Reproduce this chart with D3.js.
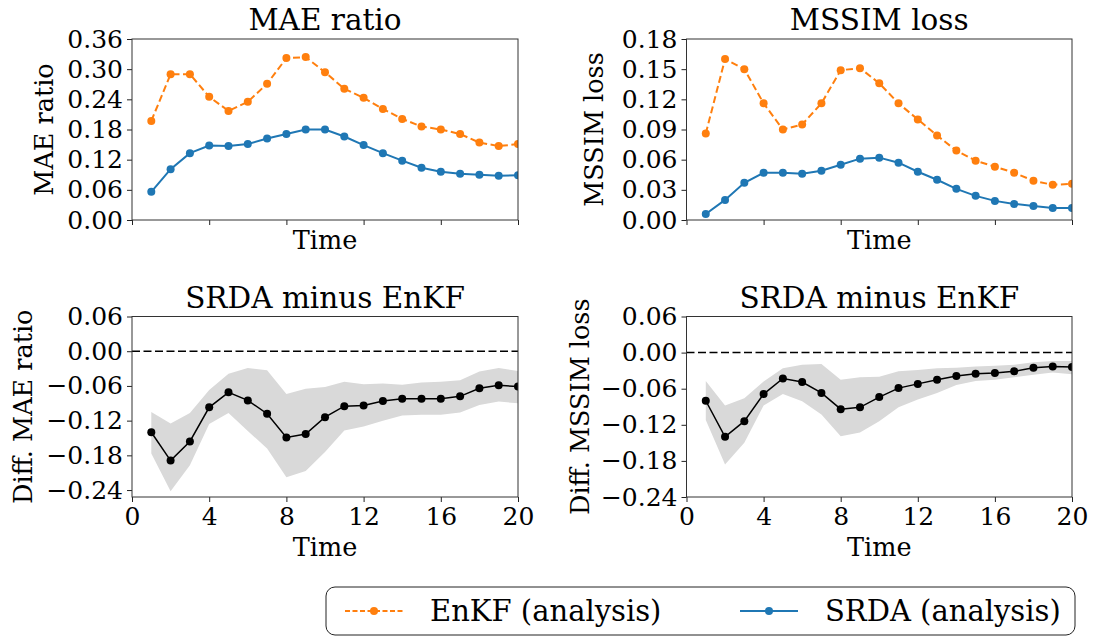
<!DOCTYPE html>
<html lang="en">
<head>
<meta charset="utf-8">
<title>SRDA vs EnKF</title>
<script src="https://cdn.jsdelivr.net/npm/d3@7"></script>
<style>
  body { margin: 0; background: #fff; }
  svg text { font-family: "DejaVu Serif", serif; fill: #000; }
</style>
</head>
<body>
<script>
// --- data ---
var time = d3.range(1, 21);

var maeEnkf = [0.197, 0.290, 0.290, 0.245, 0.217, 0.235, 0.271, 0.322, 0.324, 0.294,
               0.261, 0.243, 0.221, 0.201, 0.186, 0.180, 0.171, 0.154, 0.147, 0.151];
var maeSrda = [0.056, 0.101, 0.133, 0.148, 0.147, 0.151, 0.162, 0.171, 0.180, 0.180,
               0.166, 0.149, 0.133, 0.118, 0.104, 0.096, 0.092, 0.090, 0.088, 0.089];

var ssimEnkf = [0.086, 0.160, 0.150, 0.116, 0.090, 0.095, 0.116, 0.149, 0.151, 0.136,
                0.116, 0.100, 0.084, 0.069, 0.059, 0.053, 0.047, 0.039, 0.035, 0.036];
var ssimSrda = [0.006, 0.020, 0.037, 0.047, 0.047, 0.046, 0.049, 0.055, 0.061, 0.062,
                0.057, 0.048, 0.040, 0.031, 0.024, 0.019, 0.016, 0.014, 0.012, 0.012];

var maeDiff  = [-0.140, -0.189, -0.156, -0.097, -0.071, -0.085, -0.108, -0.149, -0.143, -0.114,
                -0.095, -0.094, -0.086, -0.082, -0.082, -0.082, -0.078, -0.064, -0.059, -0.061];
var maeDiffHi = [-0.105, -0.125, -0.107, -0.067, -0.039, -0.029, -0.033, -0.074, -0.065, -0.062,
                 -0.053, -0.057, -0.056, -0.058, -0.054, -0.053, -0.050, -0.035, -0.029, -0.034];
var maeDiffLo = [-0.177, -0.242, -0.197, -0.126, -0.107, -0.138, -0.168, -0.218, -0.207, -0.174,
                 -0.137, -0.130, -0.120, -0.111, -0.110, -0.110, -0.106, -0.093, -0.087, -0.090];

var ssimDiff  = [-0.080, -0.140, -0.114, -0.069, -0.043, -0.049, -0.067, -0.094, -0.091, -0.074,
                 -0.059, -0.052, -0.045, -0.039, -0.035, -0.034, -0.031, -0.025, -0.023, -0.024];
var ssimDiffHi = [-0.047, -0.088, -0.076, -0.048, -0.026, -0.020, -0.019, -0.045, -0.041, -0.040,
                  -0.031, -0.029, -0.026, -0.025, -0.023, -0.022, -0.020, -0.016, -0.014, -0.014];
var ssimDiffLo = [-0.112, -0.186, -0.150, -0.088, -0.069, -0.081, -0.103, -0.139, -0.133, -0.114,
                  -0.091, -0.078, -0.067, -0.054, -0.047, -0.045, -0.041, -0.037, -0.033, -0.036];

var xTicks = [0, 4, 8, 12, 16, 20];
var maeTicks = [0, 0.06, 0.12, 0.18, 0.24, 0.30, 0.36];
var ssimTicks = [0, 0.03, 0.06, 0.09, 0.12, 0.15, 0.18];
var diffTicks = [0.06, 0, -0.06, -0.12, -0.18, -0.24];

var ORANGE = "#ff7f0e", BLUE = "#1f77b4";

var W = 1095, H = 636;
var svg = d3.select("body").append("svg")
  .attr("width", W).attr("height", H);

var fmt = d3.format(".2f");

function panel(p) {
  var x = d3.scaleLinear().domain([0, 20]).range([p.left, p.right]);
  var y = d3.scaleLinear().domain(p.ydom).range([p.bottom, p.top]);
  var g = svg.append("g");

  var clipId = "clip" + p.id;
  svg.append("clipPath").attr("id", clipId).append("rect")
    .attr("x", p.left).attr("y", p.top)
    .attr("width", p.right - p.left).attr("height", p.bottom - p.top);
  var plot = g.append("g").attr("clip-path", "url(#" + clipId + ")");

  if (p.band) {
    var area = d3.area()
      .x(function(d, i) { return x(time[i]); })
      .y0(function(d, i) { return y(p.band[1][i]); })
      .y1(function(d, i) { return y(p.band[0][i]); });
    plot.append("path").datum(time).attr("d", area).attr("fill", "#d9d9d9");
  }
  if (p.zero) {
    plot.append("line")
      .attr("x1", p.left).attr("x2", p.right)
      .attr("y1", y(0)).attr("y2", y(0))
      .attr("stroke", "#000").attr("stroke-width", 1.5)
      .attr("stroke-dasharray", "8,3.5");
  }

  p.series.forEach(function(s) {
    var line = d3.line()
      .x(function(d, i) { return x(time[i]); })
      .y(function(d) { return y(d); });
    plot.append("path").datum(s.values)
      .attr("d", line).attr("fill", "none")
      .attr("stroke", s.color).attr("stroke-width", s.width)
      .attr("stroke-dasharray", s.dash || null);
    plot.selectAll(null).data(s.values).enter().append("circle")
      .attr("cx", function(d, i) { return x(time[i]); })
      .attr("cy", function(d) { return y(d); })
      .attr("r", 4).attr("fill", s.color);
  });

  // axes
  var xa = d3.axisBottom(x).tickValues(xTicks).tickSize(5).tickPadding(5)
    .tickFormat(p.xlabels ? d3.format("d") : "");
  var ya = d3.axisLeft(y).tickValues(p.yticks).tickSize(5).tickPadding(4).tickFormat(fmt);

  var gx = g.append("g").attr("transform", "translate(0," + p.bottom + ")").call(xa);
  var gy = g.append("g").attr("transform", "translate(" + p.left + ",0)").call(ya);
  [gx, gy].forEach(function(a) {
    a.select(".domain").remove();
    a.selectAll("line").attr("stroke", "#222").attr("stroke-width", 1);
    a.selectAll("text").style("font-family", "DejaVu Serif").style("font-size", "25px").attr("fill", "#000");
  });

  g.append("rect")
    .attr("x", p.left).attr("y", p.top)
    .attr("width", p.right - p.left).attr("height", p.bottom - p.top)
    .attr("fill", "none").attr("stroke", "#333").attr("stroke-width", 1);

  g.append("text")
    .attr("x", (p.left + p.right) / 2).attr("y", p.top - 9)
    .attr("text-anchor", "middle").style("font-size", "29.5px")
    .text(p.title);

  g.append("text")
    .attr("x", (p.left + p.right) / 2).attr("y", p.xlabelY)
    .attr("text-anchor", "middle").style("font-size", "25.5px")
    .text("Time");

  g.append("text")
    .attr("transform", "translate(" + p.ylabelX + "," + ((p.top + p.bottom) / 2) + ") rotate(-90)")
    .attr("text-anchor", "middle").style("font-size", "25.5px")
    .text(p.ylabel);
}

panel({
  id: 1, left: 132, right: 518, top: 39, bottom: 220, ydom: [0, 0.36],
  yticks: maeTicks, xlabels: false, title: "MAE ratio", ylabel: "MAE ratio",
  xlabelY: 249, ylabelX: 53,
  series: [
    { values: maeEnkf, color: ORANGE, width: 2, dash: "7,3.5" },
    { values: maeSrda, color: BLUE, width: 2 }
  ]
});

panel({
  id: 2, left: 686.5, right: 1072, top: 39, bottom: 220, ydom: [0, 0.18],
  yticks: ssimTicks, xlabels: false, title: "MSSIM loss", ylabel: "MSSIM loss",
  xlabelY: 249, ylabelX: 603,
  series: [
    { values: ssimEnkf, color: ORANGE, width: 2, dash: "7,3.5" },
    { values: ssimSrda, color: BLUE, width: 2 }
  ]
});

panel({
  id: 3, left: 132, right: 518, top: 316.5, bottom: 497, ydom: [-0.252, 0.06],
  yticks: diffTicks, xlabels: true, title: "SRDA minus EnKF", ylabel: "Diff. MAE ratio",
  xlabelY: 556, ylabelX: 32, zero: true, band: [maeDiffHi, maeDiffLo],
  series: [{ values: maeDiff, color: "#000", width: 1.5 }]
});

panel({
  id: 4, left: 686.5, right: 1072, top: 316.5, bottom: 497, ydom: [-0.24, 0.06],
  yticks: diffTicks, xlabels: true, title: "SRDA minus EnKF", ylabel: "Diff. MSSIM loss",
  xlabelY: 556, ylabelX: 589, zero: true, band: [ssimDiffHi, ssimDiffLo],
  series: [{ values: ssimDiff, color: "#000", width: 1.5 }]
});

// legend
var legend = svg.append("g");
legend.append("rect")
  .attr("x", 326).attr("y", 587).attr("width", 749).attr("height", 48)
  .attr("rx", 9).attr("fill", "#fff").attr("stroke", "#222").attr("stroke-width", 1);

var legendItems = [
  { label: "EnKF (analysis)", color: ORANGE, dash: "5,2.5", x: 345 },
  { label: "SRDA (analysis)", color: BLUE, dash: null, x: 740 }
];
legendItems.forEach(function(it) {
  var cy = 611;
  legend.append("line")
    .attr("x1", it.x).attr("x2", it.x + 58).attr("y1", cy).attr("y2", cy)
    .attr("stroke", it.color).attr("stroke-width", 2)
    .attr("stroke-dasharray", it.dash);
  legend.append("circle").attr("cx", it.x + 29).attr("cy", cy).attr("r", 4).attr("fill", it.color);
  legend.append("text").attr("x", it.x + 85).attr("y", cy + 10)
    .style("font-size", "29px").text(it.label);
});
</script>
</body>
</html>
